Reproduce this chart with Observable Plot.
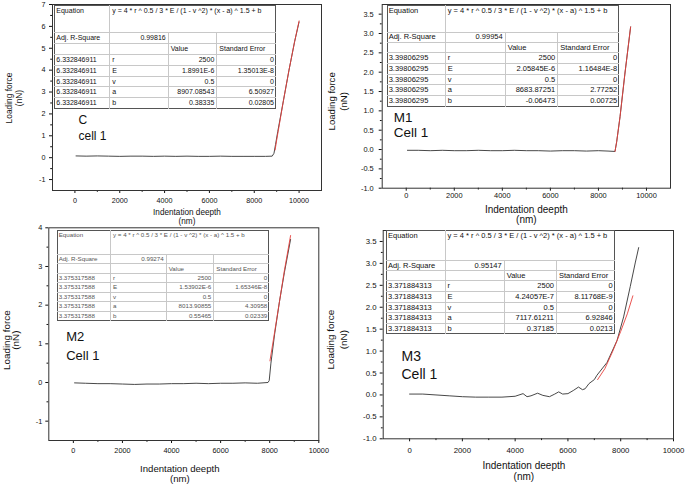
<!DOCTYPE html>
<html><head><meta charset="utf-8">
<script src="https://cdn.jsdelivr.net/npm/d3@7"></script>
<script src="https://cdn.jsdelivr.net/npm/@observablehq/plot@0.6"></script>
<style>
body{margin:0;background:#fff;}
#fig{position:relative;width:685px;height:486px;background:#fff;overflow:hidden;font-family:'Liberation Sans',Arial,sans-serif;}
.cell{position:absolute;box-sizing:border-box;border-right:1px solid #c8c8c8;border-bottom:1px solid #c8c8c8;padding:0 2px;white-space:nowrap;overflow:hidden;}
.tbl{position:absolute;box-sizing:border-box;border:1px solid #555;background:#fff;}
</style></head><body><div id="fig"></div>
<script>
// ---------- data ----------
const xMajor = [0, 2000, 4000, 6000, 8000, 10000];
const xMinor = [1000, 3000, 5000, 7000, 9000];
const panelNames = ["C", "M1", "M2", "M3"];
const cellNames = ["cell 1", "Cell 1", "Cell 1", "Cell 1"];
const equationText = "y = 4 * r ^ 0.5 / 3 * E / (1 - v ^2) * (x - a) ^ 1.5 + b";
const adjR2 = ["0.99816", "0.99954", "0.99274", "0.95147"];
const rowIds = ["6.332846911", "3.39806295", "3.375317588", "3.371884313"];
const paramNames = ["r", "E", "v", "a", "b"];
const valuesC = ["2500", "1.8991E-6", "0.5", "8907.08543", "0.38335"];
const errorsC = ["0", "1.35013E-8", "0", "6.50927", "0.02805"];
const valuesM1 = ["2500", "2.05845E-6", "0.5", "8683.87251", "-0.06473"];
const errorsM1 = ["0", "1.16484E-8", "0", "2.77252", "0.00725"];
const valuesM2 = ["2500", "1.53902E-6", "0.5", "8013.90855", "0.55465"];
const errorsM2 = ["0", "1.65346E-8", "0", "4.30958", "0.02339"];
const valuesM3 = ["2500", "4.24057E-7", "0.5", "7117.61211", "0.37185"];
const errorsM3 = ["0", "8.11768E-9", "0", "6.92846", "0.0213"];

// measured curves (nm, nN)
const cDepth = [50, 500, 1000, 1500, 2000, 2500, 3000, 3500, 4000, 4500, 5000, 5500, 6000, 6500, 7000, 7500, 8000, 8500, 8800, 8880, 8950, 9050, 9300, 9550, 9800, 10000];
const cForce = [0.08, 0.07, 0.08, 0.07, 0.06, 0.07, 0.07, 0.06, 0.07, 0.06, 0.07, 0.06, 0.06, 0.07, 0.06, 0.06, 0.06, 0.06, 0.07, 0.2, 0.6, 1.2, 2.6, 4.0, 5.3, 6.2];
const cFitDepth = [8930, 9000, 9300, 9550, 9800, 10000];
const cFitForce = [0.35, 0.8, 2.6, 4.0, 5.3, 6.25];

const m1Depth = [50, 500, 1000, 1500, 2000, 2500, 3000, 3500, 4000, 4500, 5000, 5500, 6000, 6500, 7000, 7500, 8000, 8400, 8690, 8760, 8900, 9100, 9340];
const m1Force = [-0.02, -0.02, -0.03, -0.02, -0.03, -0.03, -0.02, -0.03, -0.03, -0.02, -0.03, -0.03, -0.04, -0.03, -0.03, -0.04, -0.03, -0.04, -0.05, 0.2, 0.85, 1.95, 3.17];
const m1FitDepth = [8690, 8760, 8900, 9100, 9340];
const m1FitForce = [-0.05, 0.2, 0.85, 1.95, 3.17];

const m2Depth = [50, 500, 1000, 1500, 2000, 2500, 3000, 3500, 4000, 4500, 5000, 5500, 6000, 6500, 7000, 7500, 7930, 7980, 8050, 8200, 8400, 8600, 8850];
const m2Force = [-0.01, -0.02, -0.03, -0.03, -0.04, -0.05, -0.04, -0.04, -0.03, -0.03, -0.02, -0.03, -0.02, -0.02, -0.01, -0.02, 0.0, 0.05, 0.5, 1.25, 2.1, 2.85, 3.7];
const m2FitDepth = [8010, 8200, 8400, 8600, 8850];
const m2FitForce = [0.56, 1.3, 2.1, 2.9, 3.8];

const m3Depth = [0, 500, 1000, 1500, 2000, 2500, 3000, 3500, 4000, 4300, 4450, 4600, 4850, 5050, 5300, 5500, 5650, 5800, 6000, 6200, 6400, 6550, 6650, 6800, 7000, 7100, 7480, 7860, 8110, 8360, 8550, 8680];
const m3Force = [0.02, 0.02, 0.0, -0.02, -0.04, -0.05, -0.05, -0.05, -0.03, 0.03, -0.04, -0.02, 0.04, -0.01, -0.04, 0.02, 0.07, 0.02, 0.03, 0.1, 0.18, 0.12, 0.14, 0.26, 0.35, 0.45, 0.74, 1.24, 1.78, 2.47, 3.01, 3.36];
const m3FitDepth = [7125, 7400, 7700, 8000, 8250, 8460];
const m3FitForce = [0.35, 0.6, 1.0, 1.45, 1.85, 2.26];

const yMajorC = [-1, 0, 1, 2, 3, 4, 5, 6, 7];
const yMinorC = [-0.5, 0.5, 1.5, 2.5, 3.5, 4.5, 5.5, 6.5];
const yMajorM1 = [-1, -0.5, 0, 0.5, 1, 1.5, 2, 2.5, 3, 3.5];
const yMinorM1 = [-0.75, -0.25, 0.25, 0.75, 1.25, 1.75, 2.25, 2.75, 3.25];
const yMajorM2 = [-1, 0, 1, 2, 3, 4];
const yMinorM2 = [-0.5, 0.5, 1.5, 2.5, 3.5];
const yMajorM3 = yMajorM1;
const yMinorM3 = yMinorM1;

// ---------- drawing ----------
const fig = document.getElementById("fig");
const FONT = "'Liberation Sans', Arial, sans-serif";
const int = d => String(d);
const one = d => d.toFixed(1);

function panel(o) {
  const svg = Plot.plot({
    width: o.w, height: o.h,
    marginLeft: o.ml, marginRight: o.mr, marginTop: o.mt, marginBottom: o.mb,
    x: {domain: o.xd}, y: {domain: o.yd},
    style: {fontFamily: FONT, fontSize: o.tf + "px", background: "transparent", color: "#111", overflow: "visible"},
    marks: [
      Plot.axisX(xMajor, {tickSize: 3, tickPadding: o.xp, label: null, tickFormat: int, fontSize: o.tf}),
      Plot.axisX(xMinor, {tickSize: 1.8, label: null, tickFormat: () => ""}),
      Plot.axisY(o.yMaj, {tickSize: 3, tickPadding: o.yp, label: null, tickFormat: o.fmt, fontSize: o.tf}),
      Plot.axisY(o.yMin, {tickSize: 1.8, label: null, tickFormat: () => ""}),
      Plot.line(o.bx, {x: o.bx, y: o.by, stroke: "#333", strokeWidth: 0.9}),
      Plot.line(o.rx, {x: o.rx, y: o.ry, stroke: "#e8413d", strokeWidth: 0.9}),
      Plot.frame({stroke: "#333", strokeWidth: 1}),
      Plot.text(["Loading force"], {text: d => d, frameAnchor: "left", textAnchor: "middle", lineAnchor: "middle", rotate: -90, dx: o.ly1, dy: o.ldy, fontSize: o.lf, fill: "#111"}),
      Plot.text(["(nN)"], {text: d => d, frameAnchor: "left", textAnchor: "middle", lineAnchor: "middle", rotate: -90, dx: o.ly2, dy: o.ldy, fontSize: o.lf, fill: "#111"}),
      Plot.text(["Indentation deepth"], {text: d => d, frameAnchor: "bottom", textAnchor: "middle", lineAnchor: "middle", dx: o.xdx, dy: o.lx1, fontSize: o.xf, fill: "#111"}),
      Plot.text(["(nm)"], {text: d => d, frameAnchor: "bottom", textAnchor: "middle", lineAnchor: "middle", dx: o.xdx, dy: o.lx2, fontSize: o.xf, fill: "#111"}),
      Plot.text([o.name], {text: d => d, frameAnchor: "top-left", textAnchor: "start", lineAnchor: "middle", dx: o.pdx, dy: o.pdy1, fontSize: o.pf, fill: "#111"}),
      Plot.text([o.cell], {text: d => d, frameAnchor: "top-left", textAnchor: "start", lineAnchor: "middle", dx: o.pdx, dy: o.pdy2, fontSize: o.pf, fill: "#111"})
    ]
  });
  svg.style.position = "absolute";
  svg.style.left = o.left + "px";
  svg.style.top = o.top + "px";
  fig.appendChild(svg);
}

function table(t) {
  const c = t.cols, r = t.rows;
  const box = document.createElement("div");
  box.className = "tbl";
  box.style.left = c[0] + "px"; box.style.top = r[0] + "px";
  box.style.width = (c[4] - c[0]) + "px"; box.style.height = (r[8] - r[0]) + "px";
  fig.appendChild(box);
  function cell(ci0, ci1, ri, text, align, top) {
    const d = document.createElement("div");
    d.className = "cell";
    d.style.left = (c[ci0] - c[0] - 1) + "px";
    d.style.top = (r[ri] - r[0] - 1) + "px";
    d.style.width = (c[ci1] - c[ci0]) + "px";
    d.style.height = (r[ri + 1] - r[ri]) + "px";
    d.style.fontSize = t.font + "px";
    d.style.color = t.color;
    d.style.textAlign = align;
    d.style.lineHeight = top ? (t.font + 2) + "px" : (r[ri + 1] - r[ri] - 1) + "px";
    if (top) d.style.paddingTop = "1px";
    if (ci1 === 4) d.style.borderRight = "none";
    if (ri === 7) d.style.borderBottom = "none";
    d.textContent = text;
    box.appendChild(d);
  }
  cell(0, 1, 0, "Equation", "left", true);
  cell(1, 4, 0, equationText, "left", true);
  cell(0, 1, 1, "Adj. R-Square", "left");
  cell(1, 2, 1, t.adj, "right");
  cell(2, 3, 1, "", "left");
  cell(3, 4, 1, "", "left");
  cell(0, 1, 2, "", "left");
  cell(1, 2, 2, "", "left");
  cell(2, 3, 2, "Value", "left");
  cell(3, 4, 2, "Standard Error", "left");
  for (let i = 0; i < 5; i++) {
    cell(0, 1, 3 + i, t.id, "left");
    cell(1, 2, 3 + i, paramNames[i], "left");
    cell(2, 3, 3 + i, t.vals[i], "right");
    cell(3, 4, 3 + i, t.errs[i], "right");
  }
}

// Panel C (top left)
panel({left: 0, top: 0, w: 326, h: 226, ml: 52, mr: 5, mt: 4, mb: 36,
  xd: [-1000, 11000], yd: [-1.5, 7], yMaj: yMajorC, yMin: yMinorC, fmt: int,
  bx: cDepth, by: cForce, rx: cFitDepth, ry: cFitForce,
  tf: 7.2, xp: 4, yp: 4, lf: 8.4, ly1: -43, ly2: -33, ldy: 0.5,
  xf: 8.2, xdx: 0, lx1: 22, lx2: 31,
  name: panelNames[0], cell: cellNames[0], pf: 12, pdx: 26, pdy1: 116, pdy2: 132});
// Panel M1 (top right)
panel({left: 324, top: 0, w: 361, h: 226, ml: 57.7, mr: 15, mt: 4, mb: 38.3,
  xd: [-1000, 11000], yd: [-1, 3.75], yMaj: yMajorM1, yMin: yMinorM1, fmt: one,
  bx: m1Depth, by: m1Force, rx: m1FitDepth, ry: m1FitForce,
  tf: 7.4, xp: 2, yp: 5.5, lf: 9.6, ly1: -50.7, ly2: -38.7, ldy: 5,
  xf: 10, xdx: 0, lx1: 21.3, lx2: 31.5,
  name: panelNames[1], cell: cellNames[1], pf: 13.5, pdx: 11.6, pdy1: 112.7, pdy2: 127.7});
// Panel M2 (bottom left)
panel({left: 0, top: 226, w: 324, h: 260, ml: 48.3, mr: 5.7, mt: 1.3, mb: 46,
  xd: [-1000, 10000], yd: [-1.5, 4], yMaj: yMajorM2, yMin: yMinorM2, fmt: int,
  bx: m2Depth, by: m2Force, rx: m2FitDepth, ry: m2FitForce,
  tf: 7.3, xp: 4.4, yp: 3.6, lf: 9.9, ly1: -42.3, ly2: -33.3, ldy: 6,
  xf: 9.6, xdx: -4, lx1: 28, lx2: 38,
  name: panelNames[2], cell: cellNames[2], pf: 13, pdx: 17.4, pdy1: 109.4, pdy2: 127.7});
// Panel M3 (bottom right)
panel({left: 324, top: 226, w: 361, h: 260, ml: 58.7, mr: 12, mt: 4, mb: 47.7,
  xd: [-1000, 10000], yd: [-1, 3.75], yMaj: yMajorM3, yMin: yMinorM3, fmt: one,
  bx: m3Depth, by: m3Force, rx: m3FitDepth, ry: m3FitForce,
  tf: 7.8, xp: 5.8, yp: 3.7, lf: 9.9, ly1: -52.7, ly2: -39.7, ldy: 5,
  xf: 10, xdx: -4.5, lx1: 26.5, lx2: 38,
  name: panelNames[3], cell: cellNames[3], pf: 14, pdx: 18.3, pdy1: 126, pdy2: 144});

table({cols: [54.3, 110.3, 168.7, 217.3, 276], rows: [4.7, 33.3, 44, 55, 65.7, 76.7, 87.3, 98.3, 109],
  font: 7, color: "#111", adj: adjR2[0], id: rowIds[0], vals: valuesC, errs: errorsC});
table({cols: [386.7, 445.7, 505.7, 558.3, 619.3], rows: [5, 33.3, 42.7, 53.3, 64, 75, 85, 96, 106.7],
  font: 7.5, color: "#111", adj: adjR2[1], id: rowIds[1], vals: valuesM1, errs: errorsM1});
table({cols: [56.7, 111, 166.7, 214.3, 269.3], rows: [230, 255, 264.3, 274.3, 283.3, 292.7, 302.3, 311.7, 321],
  font: 6.2, color: "#555", adj: adjR2[2], id: rowIds[2], vals: valuesM2, errs: errorsM2});
table({cols: [386, 445.5, 504.7, 557, 614.7], rows: [230, 260.5, 271, 281.3, 292, 302.7, 313.3, 323.7, 334],
  font: 7.5, color: "#111", adj: adjR2[3], id: rowIds[3], vals: valuesM3, errs: errorsM3});
</script></body></html>
